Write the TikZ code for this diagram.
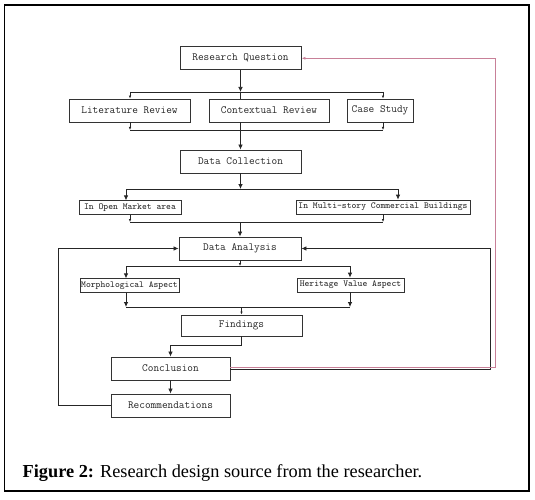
\documentclass[tikz,border=0pt]{standalone}
\usepackage{fontspec}
\setmainfont{Liberation Serif}
\usetikzlibrary{arrows.meta}
\definecolor{pinkline}{RGB}{200,128,152}
\begin{document}
\begin{tikzpicture}[x=1pt,y=-1pt,
  box/.style={draw=black!80, line width=0.9pt, rectangle, inner sep=0pt,
    font=\ttfamily\fontsize{11}{11}\selectfont, text=black!85},
  sbox/.style={box, line width=0.75pt, font=\ttfamily\fontsize{9.2}{9.2}\selectfont},
  conn/.style={draw=black!85, line width=0.75pt},
  arr/.style={conn, -{Latex[length=5pt,width=4.5pt]}},
  sarr/.style={conn, -{Latex[length=3pt,width=2.5pt]}},
  parr/.style={draw=pinkline, line width=1pt, -{Latex[length=4pt,width=3pt]}}
]
\fill[white] (0,0) rectangle (535,500);
\useasboundingbox (0,0) rectangle (535,500);
\draw[line width=1.3pt] (4.5,5) rectangle (529,491);

\node[box, minimum width=121pt, minimum height=23pt] (rq) at (240.5,58.3) {Research Question};
\node[box, minimum width=121pt, minimum height=23pt] (lit) at (129.5,110.5) {Literature Review};
\node[box, minimum width=120pt, minimum height=23pt] (ctx) at (269,110.5) {Contextual Review};
\node[box, minimum width=66pt, minimum height=23pt] (cs) at (380,110.5) {Case Study};
\node[box, minimum width=121pt, minimum height=23pt] (dc) at (240.5,161.5) {Data Collection};
\node[sbox, minimum width=102pt, minimum height=13.5pt] (om) at (130,207.5) {In Open Market area};
\node[sbox, minimum width=174pt, minimum height=14pt] (ms) at (383,207) {In Multi-story Commercial Buildings};
\node[box, minimum width=122pt, minimum height=23pt] (da) at (240,248.5) {Data Analysis};
\node[sbox, minimum width=99pt, minimum height=13.5pt] (mo) at (129.5,285.5) {Morphological Aspect};
\node[sbox, minimum width=107pt, minimum height=14pt] (hv) at (350.5,285) {Heritage Value Aspect};
\node[box, minimum width=121pt, minimum height=21pt] (fi) at (241.5,325.5) {Findings};
\node[box, minimum width=119pt, minimum height=23pt] (co) at (170.5,368.5) {Conclusion};
\node[box, minimum width=119pt, minimum height=23pt] (re) at (170.5,405.5) {Recommendations};

% RQ to reviews
\coordinate (a1) at (130,92); \coordinate (a2) at (383,92);
\draw[arr] (rq.south) -- (rq.south |- a1);
\draw[conn] (a1) -- (a2);
\draw[sarr] (a1) -- (a1 |- lit.north);
\draw[sarr] (a2) -- (a2 |- cs.north);
\draw[conn] (rq.south |- a1) -- (rq.south |- ctx.north);
% reviews to DC
\coordinate (b1) at (130,130); \coordinate (b2) at (383,130);
\draw[sarr] (b1 |- lit.south) -- (b1);
\draw[sarr] (b2 |- cs.south) -- (b2);
\draw[conn] (b1) -- (b2);
\draw[arr] (dc.north |- ctx.south) -- (dc.north);
% DC to areas
\coordinate (c1) at (126,189); \coordinate (c2) at (398,189);
\draw[arr] (dc.south) -- (dc.south |- c1);
\draw[conn] (c1) -- (c2);
\draw[arr] (c1) -- (c1 |- om.north);
\draw[arr] (c2) -- (c2 |- ms.north);
% areas to DA
\coordinate (d1) at (130,222); \coordinate (d2) at (383,222);
\draw[sarr] (d1 |- om.south) -- (d1);
\draw[sarr] (d2 |- ms.south) -- (d2);
\draw[conn] (d1) -- (d2);
\draw[arr] (da.north |- d1) -- (da.north);
% DA to aspects
\coordinate (e1) at (126,266); \coordinate (e2) at (350,266);
\draw[sarr] (da.south) -- (da.south |- e1);
\draw[conn] (e1) -- (e2);
\draw[arr] (e1) -- (e1 |- mo.north);
\draw[arr] (e2) -- (e2 |- hv.north);
% aspects to findings
\coordinate (f1) at (126,307); \coordinate (f2) at (350,307);
\draw[arr] (f1 |- mo.south) -- (f1);
\draw[arr] (f2 |- hv.south) -- (f2);
\draw[conn] (f1) -- (f2);
\draw[sarr] (fi.north |- f1) -- (fi.north);
% findings to conclusion to recommendations
\coordinate (g1) at (170.5,345);
\draw[arr] (fi.south) |- (g1) -- (co.north);
\draw[arr] (co.south) -- (re.north);
% loops
\coordinate (h1) at (58,405.5);
\draw[arr] (re.west) -- (h1) |- (da.west);
\coordinate (k1) at (490,369.5);
\draw[arr] ([yshift=-1pt]co.east) -- (k1) |- (da.east);
\coordinate (p1) at (495,367);
\draw[parr] ([yshift=1.5pt]co.east) -- (p1) |- (rq.east);

\node[anchor=base west, inner sep=0pt, font=\fontsize{18.3}{18.3}\selectfont] (cap) at (22.5,477)
  {\textbf{Figure 2:} Research design source from the researcher.};
\end{tikzpicture}
\end{document}
